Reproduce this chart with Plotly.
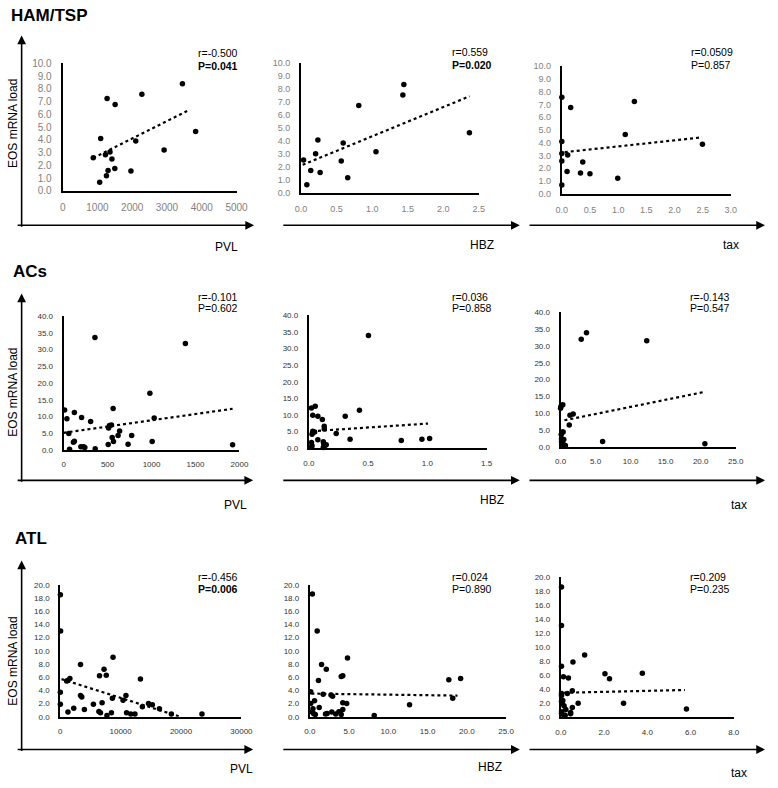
import plotly.graph_objects as go

OFF = 0
W, H = 778, 788

# ---------------- data ----------------
# HAM/TSP
ham_pvl_x = [880, 1065, 1093, 1231, 1278, 1259, 1306, 1361, 1417, 1509, 1500, 1963, 2102, 2278, 2917, 3444, 3824]
ham_pvl_y = [2.6, 0.67, 4.1, 2.84, 7.24, 1.19, 1.6, 3.04, 2.5, 6.78, 1.75, 1.55, 3.92, 7.58, 3.2, 8.4, 4.66]
ham_pvl_trend_x = [880, 3611]
ham_pvl_trend_y = [2.58, 6.31]

ham_hbz_x = [0.036, 0.082, 0.137, 0.205, 0.237, 0.269, 0.566, 0.593, 0.657, 0.812, 1.054, 1.432, 1.446, 2.368]
ham_hbz_y = [2.54, 0.65, 1.74, 3.02, 4.08, 1.59, 2.47, 3.85, 1.18, 6.73, 3.17, 7.53, 8.34, 4.63]
ham_hbz_trend_x = [0.023, 2.37]
ham_hbz_trend_y = [2.17, 7.43]

ham_tax_x = [0, 0.157, 0, 0, 0.104, 0, 0.371, 0.093, 0.331, 0.499, 0, 0.992, 1.126, 1.288, 2.496]
ham_tax_y = [7.56, 6.76, 4.09, 3.16, 3.03, 2.57, 2.49, 1.75, 1.62, 1.57, 0.69, 1.21, 4.65, 7.22, 3.88]
ham_tax_trend_x = [0.052, 2.49]
ham_tax_trend_y = [3.26, 4.42]

# ACs
acs_pvl_x = [11, 37, 59, 67, 122, 111, 122, 196, 204, 226, 241, 307, 356, 359, 507, 511, 522, 544, 552, 567,
             563, 619, 637, 733, 774, 981, 1007, 1030, 1385, 1922]
acs_pvl_y = [11.9, 9.3, 4.9, 0.2, 11.2, 2.3, 2.6, 0.9, 9.7, 0.9, 0.7, 8.5, 33.6, 0.3, 1.6, 6.5, 7.3, 7.4, 3.7, 2.5,
             12.4, 4.3, 5.6, 1.7, 4.3, 16.9, 2.5, 9.5, 31.8, 1.5]
acs_pvl_trend_x = [0, 1922]
acs_pvl_trend_y = [5.1, 12.3]

acs_hbz_x = [0.022, 0.033, 0.054, 0.027, 0.033, 0.049, 0.022, 0.027, 0.022, 0.076, 0.076, 0.114, 0.13, 0.13,
             0.122, 0.127, 0.136, 0.147, 0.122, 0.231, 0.307, 0.348, 0.427, 0.503, 0.78, 0.954, 1.019]
acs_hbz_y = [12.1, 9.9, 12.6, 4.2, 5.1, 4.9, 1.7, 0.7, 0.3, 9.6, 2.5, 8.6, 6.6, 5.8,
             1.9, 1.2, 0.8, 1.0, 0.2, 4.4, 9.6, 2.7, 11.4, 33.9, 2.3, 2.7, 2.9]
acs_hbz_trend_x = [0.027, 1.005]
acs_hbz_trend_y = [5.1, 7.4]

acs_tax_x = [0.0, 0.05, 0.32, 0.1, 0.23, 0.37, 0.14, 0.46, 0.14, 0.23, 0.46, 0.69, 1.24, 1.34, 1.8, 2.95, 3.7,
             6.0, 12.3, 20.6]
acs_tax_y = [11.5, 12.0, 12.5, 3.7, 4.4, 4.4, 2.4, 2.2, 1.5, 0.8, 0.6, 0.4, 6.5, 9.4, 9.8, 32.0, 33.9,
             1.6, 31.5, 0.9]
acs_tax_trend_x = [0.55, 20.7]
acs_tax_trend_y = [7.9, 16.4]

# ATL
atl_pvl_x = [27, 64, 16, 21, 1067, 1280, 1600, 1280, 2240, 3360, 3360, 3573, 4000, 5493, 6400, 6667, 6507, 6933,
             7253, 7627, 7733, 8480, 8747, 8640, 10400, 10880, 10987, 11680, 12373, 13280, 13600, 14613, 15253,
             16427, 18400, 23467]
atl_pvl_y = [18.5, 13.0, 3.7, 1.9, 5.4, 5.5, 5.8, 0.7, 1.3, 7.9, 3.2, 3.0, 1.1, 1.9, 0.8, 0.6, 6.2, 2.1,
             7.2, 6.3, 0.2, 0.6, 9.0, 2.8, 2.5, 3.2, 0.6, 0.4, 0.4, 5.7, 1.5, 2.0, 1.8,
             1.2, 0.4, 0.4]
atl_pvl_trend_x = [213, 19840]
atl_pvl_trend_y = [5.7, 0.0]

atl_hbz_x = [0.33, 0.94, 0.12, 0.12, 1.1, 1.5, 2.1, 1.7, 0.6, 0.4, 0.3, 0.5, 0.7, 1.2, 2.0, 2.2, 2.8, 3.3,
             2.7, 2.9, 3.7, 4.0, 4.2, 4.0, 4.2, 4.2, 4.7, 4.8, 8.2, 12.7, 17.7, 18.2, 19.2]
atl_hbz_y = [18.6, 13.0, 3.8, 2.0, 5.5, 7.9, 7.2, 3.4, 2.4, 1.2, 0.7, 0.45, 0.35, 1.4, 0.4, 0.5, 0.7, 0.4,
             3.3, 3.1, 0.75, 0.35, 1.1, 6.1, 6.2, 2.1, 2.0, 8.9, 0.2, 1.8, 5.6, 2.8, 5.8]
atl_hbz_trend_x = [0.2, 18.8]
atl_hbz_trend_y = [3.5, 3.2]

atl_tax_x = [0.03, 0.03, 0.03, 0.03, 0.03, 0.03, 0.09, 0.08, 0.15, 0.23, 0.03, 0.03, 0.15, 0.2, 0.12, 0.35,
             0.3, 0.53, 0.56, 0.45, 0.45, 0.53, 1.1, 0.8, 2.04, 2.25, 2.9, 3.77, 5.81]
atl_tax_y = [18.6, 13.1, 7.3, 3.4, 3.1, 2.3, 2.4, 1.9, 1.6, 1.1, 0.8, 0.5, 0.3, 0.3, 5.8, 5.6,
             3.4, 3.8, 7.9, 0.5, 0.7, 1.4, 8.9, 2.0, 6.2, 5.5, 2.0, 6.3, 1.2]
atl_tax_trend_x = [0.15, 5.74]
atl_tax_trend_y = [3.5, 3.9]

stats_r = ["r=-0.500", "r=0.559", "r=0.0509", "r=-0.101", "r=0.036", "r=-0.143", "r=-0.456", "r=0.024", "r=0.209"]
stats_p = ["P=0.041", "P=0.020", "P=0.857", "P=0.602", "P=0.858", "P=0.547", "P=0.006", "P=0.890", "P=0.235"]
p_bold = [True, True, False, False, False, False, True, False, False]
x_titles = ["PVL", "HBZ", "tax"]
group_titles = ["HAM/TSP", "ACs", "ATL"]
y_title = "EOS mRNA load"

# ---------------- layout helpers (window pixels -> paper) ----------------
def px_x(a):
    return (a - OFF) / W

def px_y(a):
    return 1 - (a - OFF) / H

panels = [
    dict(x=ham_pvl_x, y=ham_pvl_y, tx=ham_pvl_trend_x, ty=ham_pvl_trend_y, xr=[0, 5000], xdt=1000, xf="d",
         yr=[0, 10], ydt=1, dom=(58, 236, 58.3, 187.7), ann=(194, 47.7, 61), fs=10, fc="#7f7f7f"),
    dict(x=ham_hbz_x, y=ham_hbz_y, tx=ham_hbz_trend_x, ty=ham_hbz_trend_y, xr=[0, 2.5], xdt=0.5, xf=".1f",
         yr=[0, 10], ydt=1, dom=(302, 484, 57.7, 190), ann=(455, 46.7, 60), fs=9, fc="#7f7f7f"),
    dict(x=ham_tax_x, y=ham_tax_y, tx=ham_tax_trend_x, ty=ham_tax_trend_y, xr=[0, 3], xdt=0.5, xf=".1f",
         yr=[0, 10], ydt=1, dom=(569, 742, 61, 190.7), ann=(699, 46.7, 60), fs=9, fc="#7f7f7f"),
    dict(x=acs_pvl_x, y=acs_pvl_y, tx=acs_pvl_trend_x, ty=acs_pvl_trend_y, xr=[0, 2000], xdt=500, xf="d",
         yr=[0, 40], ydt=5, dom=(59, 239, 315, 450.7), ann=(195, 295, 306.7), fs=8, fc="#333333"),
    dict(x=acs_hbz_x, y=acs_hbz_y, tx=acs_hbz_trend_x, ty=acs_hbz_trend_y, xr=[0, 1.5], xdt=0.5, xf=".1f",
         yr=[0, 40], ydt=5, dom=(310, 492, 314, 449), ann=(455, 295, 307), fs=8, fc="#333333"),
    dict(x=acs_tax_x, y=acs_tax_y, tx=acs_tax_trend_x, ty=acs_tax_trend_y, xr=[0, 25], xdt=5, xf=".1f",
         yr=[0, 40], ydt=5, dom=(567.7, 747, 311, 447.7), ann=(698, 295, 307), fs=8, fc="#333333"),
    dict(x=atl_pvl_x, y=atl_pvl_y, tx=atl_pvl_trend_x, ty=atl_pvl_trend_y, xr=[0, 30000], xdt=10000, xf="d",
         yr=[0, 20], ydt=2, dom=(55.5, 241, 587.7, 721.7), ann=(194, 580, 591.7), fs=8, fc="#333333"),
    dict(x=atl_hbz_x, y=atl_hbz_y, tx=atl_hbz_trend_x, ty=atl_hbz_trend_y, xr=[0, 25], xdt=5, xf=".1f",
         yr=[0, 20], ydt=2, dom=(311, 512, 587.7, 721.7), ann=(455, 580, 592), fs=8, fc="#333333"),
    dict(x=atl_tax_x, y=atl_tax_y, tx=atl_tax_trend_x, ty=atl_tax_trend_y, xr=[0, 8], xdt=2, xf=".1f",
         yr=[0, 20], ydt=2, dom=(568, 745, 580, 722.3), ann=(698, 580, 592), fs=8, fc="#333333"),
]

FONT = "Liberation Sans, Arial, sans-serif"
fig = go.Figure()
layout = {}
annotations = []

for i, p in enumerate(panels):
    n = "" if i == 0 else str(i + 1)
    xa, ya = "x" + n, "y" + n
    fig.add_trace(go.Scatter(x=p["x"], y=p["y"], mode="markers", xaxis=xa, yaxis=ya,
                             marker=dict(color="black", size=5.5), cliponaxis=False, showlegend=False))
    fig.add_trace(go.Scatter(x=p["tx"], y=p["ty"], mode="lines", xaxis=xa, yaxis=ya,
                             line=dict(color="black", width=2.2, dash="dot"), cliponaxis=False,
                             showlegend=False))
    x0, x1, yt, yb = p["dom"]
    tickfont = dict(family=FONT, size=p["fs"], color=p["fc"])
    layout["xaxis" + n] = dict(domain=[px_x(x0), px_x(x1)], range=p["xr"], anchor=ya, dtick=p["xdt"], tick0=0,
                               tickformat=p["xf"], showgrid=False, zeroline=False, showline=True,
                               linecolor="black", linewidth=2, ticks="outside", ticklen=6,
                               tickcolor="rgba(0,0,0,0)", tickfont=tickfont, fixedrange=True)
    layout["yaxis" + n] = dict(domain=[px_y(yb), px_y(yt)], range=p["yr"], anchor=xa, dtick=p["ydt"], tick0=0,
                               tickformat=".1f", showgrid=False, zeroline=False, showline=True,
                               linecolor="black", linewidth=2, ticks="outside", ticklen=7,
                               tickcolor="rgba(0,0,0,0)", tickfont=tickfont, fixedrange=True)
    ax_, ry, py = p["ann"]
    annotations.append(dict(x=px_x(ax_), y=px_y(ry), xref="paper", yref="paper", text=stats_r[i],
                            showarrow=False, xanchor="left", yanchor="middle",
                            font=dict(family=FONT, size=10.5, color="black")))
    ptxt = "<b>" + stats_p[i] + "</b>" if p_bold[i] else stats_p[i]
    annotations.append(dict(x=px_x(ax_), y=px_y(py), xref="paper", yref="paper", text=ptxt,
                            showarrow=False, xanchor="left", yanchor="middle",
                            font=dict(family=FONT, size=10.5, color="black")))

# x-axis titles
xt_pos = [[(226, 245), (487, 243), (742, 243)],
          [(235, 507), (497, 502), (750, 507)],
          [(241, 775), (495, 773), (750, 779)]]
for r in range(3):
    for c in range(3):
        xx, yy = xt_pos[r][c]
        annotations.append(dict(x=px_x(xx), y=px_y(yy), xref="paper", yref="paper", text=x_titles[c],
                                showarrow=False, xanchor="center", yanchor="middle",
                                font=dict(family=FONT, size=12, color="black")))

# group titles and y titles
gt_pos = [(3, 10), (5, 270), (7, 541)]
yt_pos = [119, 392, 665]
for r in range(3):
    gx, gy = gt_pos[r]
    annotations.append(dict(x=px_x(gx), y=px_y(gy), xref="paper", yref="paper", text="<b>" + group_titles[r] + "</b>",
                            showarrow=False, xanchor="left", yanchor="middle",
                            font=dict(family=FONT, size=17, color="black")))
    annotations.append(dict(x=px_x(7), y=px_y(yt_pos[r]), xref="paper", yref="paper", text=y_title,
                            showarrow=False, xanchor="center", yanchor="middle", textangle=-90,
                            font=dict(family=FONT, size=12, color="black")))

# arrows
row_axis = [(30, 222.7), (292, 481.7), (563, 755)]
h_segments = [[(16, 254), (288, 526), (540, 777)],
              [(16, 253), (288, 526), (540, 777)],
              [(16, 253), (288, 526), (540, 777)]]
for r in range(3):
    top, base = row_axis[r]
    annotations.append(dict(x=px_x(16), y=px_y(top), xref="paper", yref="paper", axref="pixel", ayref="pixel",
                            ax=0, ay=base - top, text="", showarrow=True, arrowhead=2, arrowsize=1.1,
                            arrowwidth=1.6, arrowcolor="black"))
    for (a, b) in h_segments[r]:
        annotations.append(dict(x=px_x(b), y=px_y(base), xref="paper", yref="paper", axref="pixel",
                                ayref="pixel", ax=a - b, ay=0, text="", showarrow=True, arrowhead=2,
                                arrowsize=1.1, arrowwidth=1.6, arrowcolor="black"))

fig.update_layout(width=W, height=H, margin=dict(l=0, r=0, t=0, b=0), plot_bgcolor="white",
                  paper_bgcolor="white", showlegend=False, annotations=annotations, **layout)
fig.write_html("out.html", config={"displayModeBar": False},
               post_script="document.body.style.margin='0';document.body.style.overflow='hidden';")
